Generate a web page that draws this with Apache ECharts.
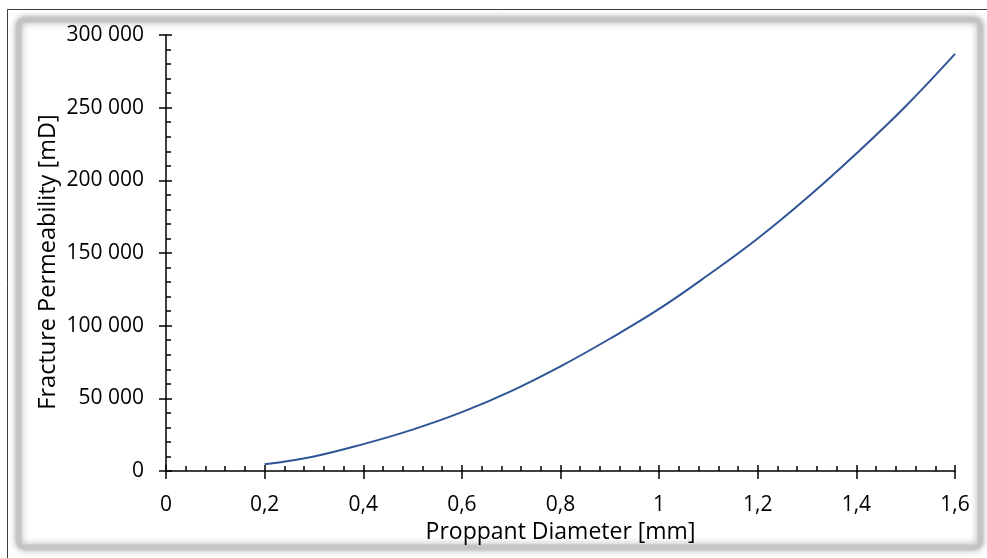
<!DOCTYPE html>
<html>
<head>
<meta charset="utf-8">
<script src="https://cdn.jsdelivr.net/npm/echarts@6/dist/echarts.min.js"></script>
<style>
html,body{margin:0;padding:0;background:#fff;}
#chart{width:987px;height:558px;}
</style>
</head>
<body>
<div id="chart"></div>
<script>
// Data
const diameters = [0.2, 0.3, 0.4, 0.5, 0.6, 0.7, 0.8, 0.9, 1.0, 1.1, 1.2, 1.3, 1.4, 1.5, 1.6];
const permeability = [4600, 10000, 18500, 28500, 40500, 55000, 72000, 91000, 111500, 135000, 160000, 188000, 218500, 251000, 287000];
const xTickLabels = ['0', '0,2', '0,4', '0,6', '0,8', '1', '1,2', '1,4', '1,6'];
const yTickLabels = ['0', '50 000', '100 000', '150 000', '200 000', '250 000', '300 000'];
const xTitle = 'Proppant Diameter [mm]';
const yTitle = 'Fracture Permeability [mD]';

const FONT = 'Open Sans';
const chart = echarts.init(document.getElementById('chart'));
const points = diameters.map((d, i) => [d, permeability[i]]);

const axisLineStyle = { color: '#000', width: 1.5 };

const option = {
  animation: false,
  backgroundColor: '#fff',
  grid: { left: 166, right: 32, top: 35, bottom: 87, containLabel: false },
  graphic: [
    {
      type: 'rect', z: -20, silent: true,
      shape: { x: 7.5, y: 9.5, width: 1000, height: 560 },
      style: { fill: '#fff', stroke: '#3c3c3c', lineWidth: 1 }
    },
    {
      type: 'rect', z: -10, silent: true,
      shape: { x: 19, y: 20, width: 961, height: 527, r: 5 },
      style: { fill: '#fff', stroke: '#c4c4c4', lineWidth: 5, shadowBlur: 7, shadowColor: 'rgba(0,0,0,0.35)' }
    },
    {
      type: 'text', z: 10, silent: true,
      x: 48, y: 262, rotation: Math.PI / 2,
      style: { text: yTitle, font: '23.5px "' + FONT + '"', fill: '#000', align: 'center', verticalAlign: 'middle' }
    }
  ],
  xAxis: [
    {
      type: 'value', min: 0, max: 1.6, interval: 0.2, position: 'bottom',
      name: xTitle, nameLocation: 'middle', nameGap: 40,
      nameTextStyle: { fontFamily: FONT, fontSize: 23, color: '#000' },
      axisLine: { show: true, onZero: false, lineStyle: axisLineStyle },
      axisTick: { show: true, inside: true, length: 6, lineStyle: axisLineStyle },
      minorTick: { show: true, splitNumber: 5, length: 5, lineStyle: { color: '#000', width: 1.5 } },
      splitLine: { show: false },
      axisLabel: {
        margin: 24, fontFamily: FONT, fontSize: 21, color: '#000',
        formatter: (v, i) => xTickLabels[Math.round(v / 0.2)]
      }
    },
    {
      type: 'value', min: 0, max: 1.6, interval: 0.2, position: 'bottom',
      axisLine: { show: false, onZero: false },
      axisTick: { show: true, inside: false, length: 8, lineStyle: axisLineStyle },
      splitLine: { show: false },
      axisLabel: { show: false }
    }
  ],
  yAxis: [
    {
      type: 'value', min: 0, max: 300000, interval: 50000, position: 'left',
      axisLine: { show: true, onZero: false, lineStyle: axisLineStyle },
      axisTick: { show: true, inside: true, length: 6, lineStyle: axisLineStyle },
      minorTick: { show: true, splitNumber: 5, length: 5, lineStyle: { color: '#000', width: 1.5 } },
      splitLine: { show: false },
      axisLabel: {
        margin: 22, fontFamily: FONT, fontSize: 21, color: '#000',
        formatter: (v) => yTickLabels[Math.round(v / 50000)]
      }
    },
    {
      type: 'value', min: 0, max: 300000, interval: 50000, position: 'left',
      axisLine: { show: false, onZero: false },
      axisTick: { show: true, inside: false, length: 7, lineStyle: axisLineStyle },
      splitLine: { show: false },
      axisLabel: { show: false }
    }
  ],
  series: [
    {
      type: 'line', xAxisIndex: 0, yAxisIndex: 0,
      data: points, smooth: 0.4, showSymbol: false, symbol: 'none',
      lineStyle: { color: '#2F5597', width: 2 }
    }
  ]
};
chart.setOption(option);
</script>
</body>
</html>
